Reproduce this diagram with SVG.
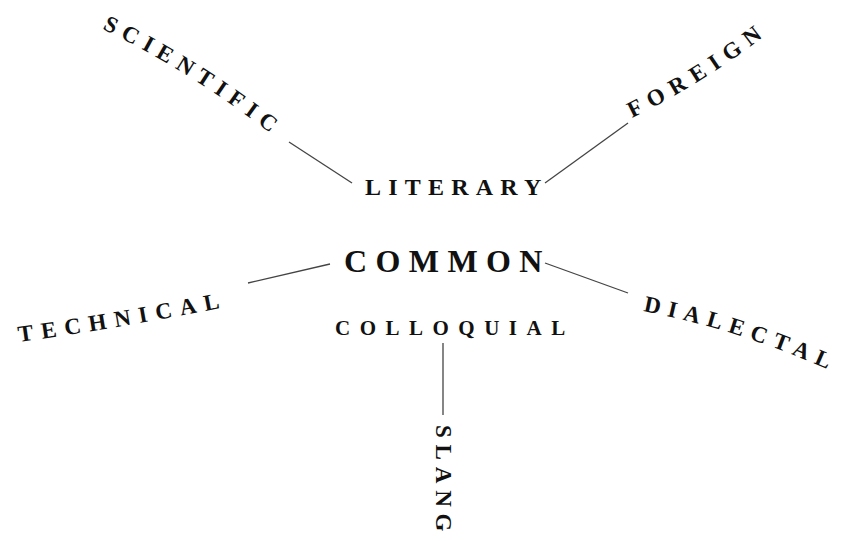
<svg xmlns="http://www.w3.org/2000/svg" width="842" height="541" viewBox="0 0 842 541">
  <style>
    .w { font-family: "Liberation Serif", "Times New Roman", serif; font-weight: bold; fill: #111; }
    .ln { stroke: #444; stroke-width: 1.3; fill: none; }
  </style>
  <defs>
    <path id="pSci" d="M102,29 Q185,68 270,133"/>
    <path id="pFor" d="M632,118 Q700,85 763,37"/>
    <path id="pTec" d="M19,342 Q120,328 220,308"/>
    <path id="pDia" d="M643,311 Q740,330 829,370"/>
  </defs>
  <rect width="842" height="541" fill="#fff"/>
  <g id="connectors">
    <line class="ln" x1="289" y1="142" x2="352" y2="183"/>
    <line class="ln" x1="545" y1="183" x2="628" y2="123"/>
    <line class="ln" x1="248" y1="283" x2="330" y2="264"/>
    <line class="ln" x1="545" y1="263" x2="628" y2="293"/>
    <line class="ln" x1="443" y1="343" x2="443" y2="415"/>
  </g>
  <g id="common">
    <text class="w" x="344" y="272" font-size="32" letter-spacing="8.4">COMMON</text>
  </g>
  <g id="literary">
    <text class="w" x="365" y="195" font-size="24" letter-spacing="7.2">LITERARY</text>
  </g>
  <g id="colloquial">
    <text class="w" x="335" y="335" font-size="21" letter-spacing="9.5">COLLOQUIAL</text>
  </g>
  <g id="scientific">
    <text class="w" font-size="23" letter-spacing="7.1"><textPath href="#pSci">SCIENTIFIC</textPath></text>
  </g>
  <g id="foreign">
    <text class="w" font-size="23" letter-spacing="7.8"><textPath href="#pFor">FOREIGN</textPath></text>
  </g>
  <g id="technical">
    <text class="w" font-size="23" letter-spacing="8.1"><textPath href="#pTec">TECHNICAL</textPath></text>
  </g>
  <g id="dialectal">
    <text class="w" font-size="23" letter-spacing="7.3"><textPath href="#pDia">DIALECTAL</textPath></text>
  </g>
  <g id="slang">
    <text class="w" font-size="23" letter-spacing="6.8" transform="translate(436,425) rotate(90)">SLANG</text>
  </g>
</svg>
